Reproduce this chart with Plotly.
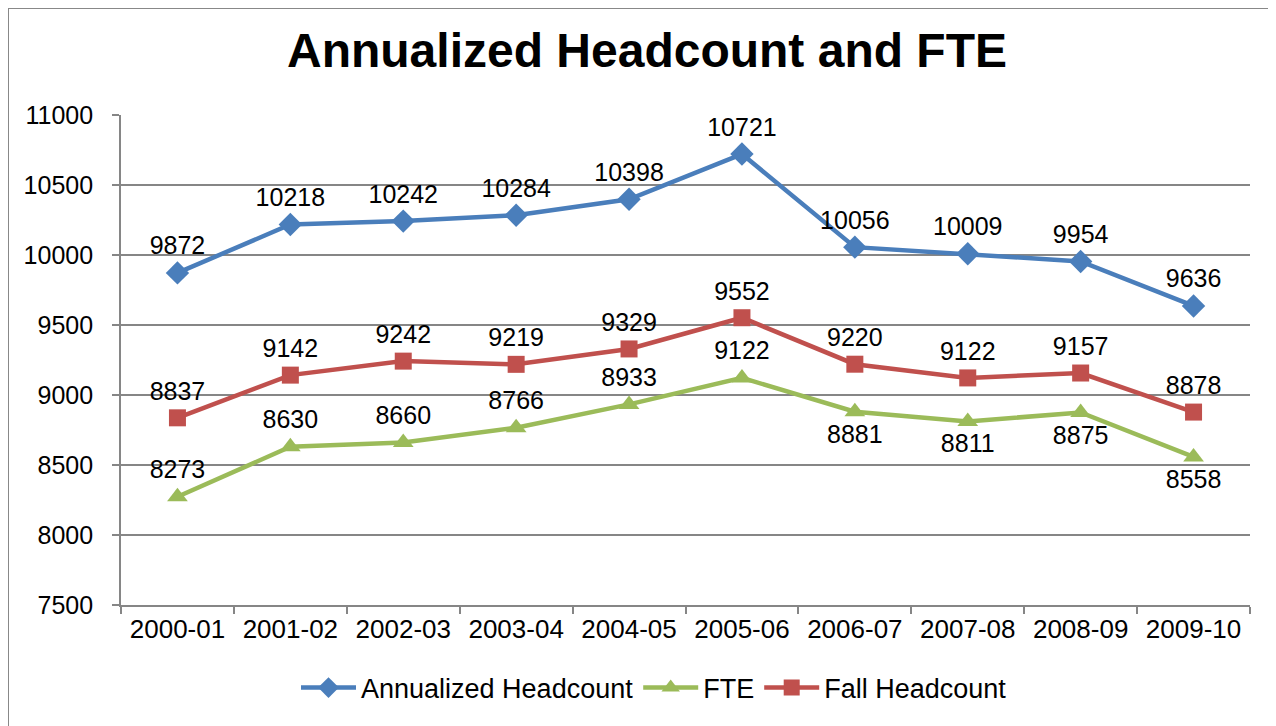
import plotly.graph_objects as go

years = ["2000-01", "2001-02", "2002-03", "2003-04", "2004-05",
         "2005-06", "2006-07", "2007-08", "2008-09", "2009-10"]
annualized = [9872, 10218, 10242, 10284, 10398, 10721, 10056, 10009, 9954, 9636]
fte = [8273, 8630, 8660, 8766, 8933, 9122, 8881, 8811, 8875, 8558]
fall = [8837, 9142, 9242, 9219, 9329, 9552, 9220, 9122, 9157, 8878]
fte_pos = ["top center"] * 6 + ["bottom center"] * 4

FONT = "Liberation Sans, Arial, sans-serif"
W, H = 1268, 718
L, T, PW, PH = 113, 107, 1129, 490

fig = go.Figure()
fig.add_trace(go.Scatter(
    x=years, y=annualized, name="Annualized Headcount", mode="lines+markers+text",
    line=dict(color="#4A7EBB", width=4.5), marker=dict(symbol="diamond", size=18, color="#4A7EBB"),
    text=[str(v) for v in annualized], textposition="top center",
    textfont=dict(size=25, color="#000", family=FONT)))
fig.add_trace(go.Scatter(
    x=years, y=fte, name="FTE", mode="lines+markers+text",
    line=dict(color="#9BBB59", width=4.5), marker=dict(symbol="triangle-up", size=18, color="#9BBB59"),
    text=[str(v) for v in fte], textposition=fte_pos,
    textfont=dict(size=25, color="#000", family=FONT)))
fig.add_trace(go.Scatter(
    x=years, y=fall, name="Fall Headcount", mode="lines+markers+text",
    line=dict(color="#C0504D", width=4.5), marker=dict(symbol="square", size=17, color="#C0504D"),
    text=[str(v) for v in fall], textposition="top center",
    textfont=dict(size=25, color="#000", family=FONT)))

fig.update_layout(
    width=W, height=H,
    paper_bgcolor="white", plot_bgcolor="white",
    margin=dict(l=L, r=W - L - PW, t=T, b=H - T - PH, pad=0),
    font=dict(family=FONT, size=25, color="#000"),
    title=dict(text="<b>Annualized Headcount and FTE</b>", x=(647 - 8) / W, xanchor="center",
               y=1 - 42 / H, yanchor="middle", font=dict(size=48, color="#000", family=FONT)),
    showlegend=True,
    legend=dict(orientation="h", x=(654 - 8 - L) / PW, xanchor="center",
                y=-(688 - 8 - T - PH) / PH, yanchor="middle",
                font=dict(size=27, color="#000"), itemwidth=55, tracegroupgap=0),
    xaxis=dict(type="category", tickson="boundaries", ticks="outside", ticklen=7,
               tickcolor="#868686", tickwidth=2, showline=True, linecolor="#868686", linewidth=2,
               showgrid=False, tickfont=dict(size=26), range=[-0.5, 9.5]),
    yaxis=dict(range=[7500, 11000], dtick=500, tickformat="d", ticks="outside", ticklen=7,
               tickcolor="#868686", tickwidth=2, showline=True, linecolor="#868686", linewidth=2,
               showgrid=True, gridcolor="#868686", gridwidth=1.5, zeroline=False,
               tickfont=dict(size=25), ticksuffix="  "),
)
fig.add_shape(type="rect", xref="paper", yref="paper",
              x0=(0 - L) / PW, x1=1.3, y0=-0.6, y1=1 + (T - 0) / PH,
              line=dict(color="#888888", width=2), layer="below")
fig.write_html("out.html")
